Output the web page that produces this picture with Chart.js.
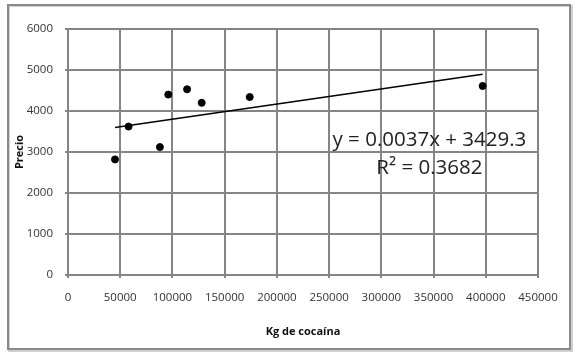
<!DOCTYPE html>
<html>
<head>
<meta charset="utf-8">
<script src="https://cdn.jsdelivr.net/npm/chart.js@4.4.1/dist/chart.umd.min.js"></script>
<style>
  html, body { margin: 0; padding: 0; background: #ffffff; }
  #wrap { width: 575px; height: 355px; position: relative; }
</style>
</head>
<body>
<div id="wrap"><canvas id="c" width="575" height="355"></canvas></div>
<script>
// ---- data ----
const kgCocaina = [45000, 58000, 88000, 96000, 114000, 128000, 174000, 397000];
const precio    = [2820, 3620, 3120, 4400, 4530, 4200, 4340, 4610];
const xTicks = [0, 50000, 100000, 150000, 200000, 250000, 300000, 350000, 400000, 450000];
const yTicks = [0, 1000, 2000, 3000, 4000, 5000, 6000];
const trendSlope = 0.0037;
const trendIntercept = 3429.3;
const equationLines = ["y = 0.0037x + 3429.3", "R\u00B2 = 0.3682"];
const xTitle = "Kg de coca\u00EDna";
const yTitle = "Precio";

const xMin = Math.min(...kgCocaina), xMax = Math.max(...kgCocaina);
const trendPoints = [xMin, xMax].map(x => ({ x: x, y: trendSlope * x + trendIntercept }));
const scatterPoints = kgCocaina.map((x, i) => ({ x: x, y: precio[i] }));

const FONT = "'Open Sans', 'Liberation Sans', sans-serif";
const GRID = '#858585';

const frame = {
  id: 'frame',
  beforeDraw(chart) {
    const ctx = chart.ctx;
    ctx.save();
    ctx.fillStyle = '#ffffff';
    ctx.fillRect(0, 0, chart.width, chart.height);
    ctx.strokeStyle = '#d0d0d0';
    ctx.lineWidth = 2;
    ctx.strokeRect(9, 6, 563, 345);
    ctx.strokeStyle = '#8a8a8a';
    ctx.lineWidth = 2;
    ctx.strokeRect(8, 5, 562, 344);
    ctx.restore();
  }
};

const equation = {
  id: 'equation',
  afterDatasetsDraw(chart) {
    const ctx = chart.ctx;
    const xs = chart.scales.x, ys = chart.scales.y;
    ctx.save();
    ctx.font = "20.5px " + FONT;
    ctx.fillStyle = '#222222';
    ctx.textAlign = 'center';
    ctx.textBaseline = 'middle';
    const cx = xs.getPixelForValue(346000);
    ctx.fillText(equationLines[0], cx, ys.getPixelForValue(3290));
    ctx.fillText(equationLines[1], cx, ys.getPixelForValue(2610));
    ctx.restore();
  }
};

new Chart(document.getElementById('c'), {
  type: 'scatter',
  data: {
    datasets: [
      {
        label: 'Precio',
        data: scatterPoints,
        backgroundColor: '#000000',
        borderColor: '#000000',
        pointRadius: 3.5,
        pointHoverRadius: 3.5,
        order: 1
      },
      {
        type: 'line',
        label: 'Tendencia',
        data: trendPoints,
        borderColor: '#000000',
        borderWidth: 1.6,
        pointRadius: 0,
        fill: false,
        order: 2
      }
    ]
  },
  options: {
    responsive: false,
    animation: false,
    devicePixelRatio: 1,
    layout: { padding: { left: 0, top: 29, right: 37, bottom: 0 } },
    plugins: {
      legend: { display: false },
      tooltip: { enabled: false },
      title: { display: false }
    },
    scales: {
      x: {
        type: 'linear',
        min: 0, max: 450000,
        afterBuildTicks(scale) { scale.ticks = xTicks.map(v => ({ value: v })); },
        afterFit(scale) { scale.height = 80; },
        grid: { color: GRID, lineWidth: 2, tickLength: 3, drawTicks: true },
        border: { color: GRID, width: 2 },
        ticks: {
          color: '#333333',
          font: { family: FONT, size: 11.5 },
          padding: 13,
          maxRotation: 0,
          autoSkip: false,
          callback: v => String(v)
        },
        title: {
          display: true,
          text: xTitle,
          color: '#111111',
          font: { family: FONT, size: 11, weight: 'bold' },
          padding: { top: 0, bottom: 17 }
        }
      },
      y: {
        type: 'linear',
        min: 0, max: 6000,
        afterBuildTicks(scale) { scale.ticks = yTicks.map(v => ({ value: v })); },
        afterFit(scale) { scale.width = 68; },
        grid: { color: GRID, lineWidth: 2, tickLength: 3, drawTicks: true },
        border: { color: GRID, width: 2 },
        ticks: {
          color: '#333333',
          font: { family: FONT, size: 11.5 },
          padding: 12,
          autoSkip: false,
          callback: v => String(v)
        },
        title: {
          display: true,
          text: yTitle,
          color: '#111111',
          font: { family: FONT, size: 11, weight: 'bold' },
          padding: { top: 13, bottom: 0 }
        }
      }
    }
  },
  plugins: [frame, equation]
});
</script>
</body>
</html>
